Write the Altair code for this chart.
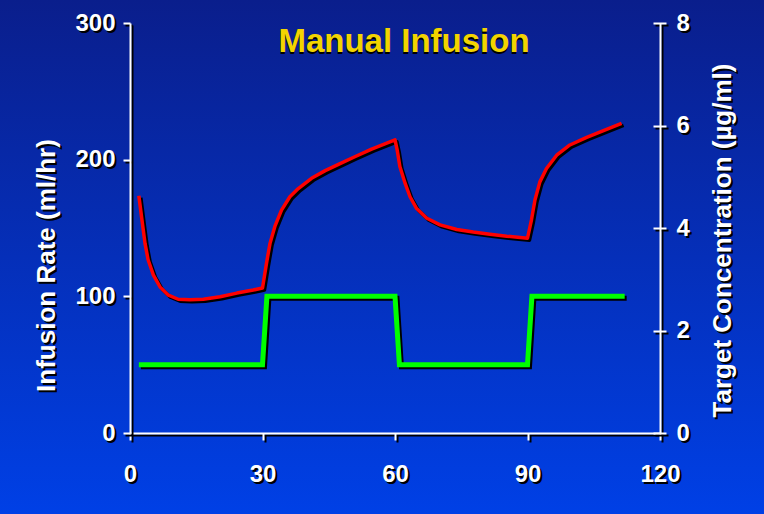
import altair as alt
import pandas as pd

# ---- data ----
x_ticks = [0, 30, 60, 90, 120]
rate_ticks = [0, 100, 200, 300]
conc_ticks = [0, 2, 4, 6, 8]

rate_time = [2, 30, 31, 60, 61, 90, 91, 112]
rate_value = [50, 50, 100, 100, 50, 50, 100, 100]

conc_time = [2, 2.7, 3.4, 4.1, 5.3, 6.8, 8.7, 10.9, 13.6, 16.6, 20.4, 24.2, 27.9, 30,
             30.9, 31.7, 32.8, 34.3, 36.2, 38.1, 41.1, 44.2, 47.2, 50.9, 54.7, 57.7, 60,
             60.5, 61.1, 62.3, 63.4, 64.9, 67.2, 70.2, 74, 77.7, 81.5, 85.3, 90,
             90.9, 91.7, 92.8, 94.3, 96.6, 99.6, 103.4, 107.2, 111.3]
conc_value = [4.63, 4.16, 3.70, 3.38, 3.08, 2.85, 2.69, 2.61, 2.60, 2.61, 2.66, 2.73, 2.79, 2.83,
              3.31, 3.70, 4.03, 4.35, 4.61, 4.77, 4.97, 5.12, 5.24, 5.39, 5.54, 5.64, 5.72,
              5.52, 5.20, 4.87, 4.61, 4.38, 4.19, 4.06, 3.97, 3.92, 3.88, 3.84, 3.80,
              4.16, 4.55, 4.90, 5.16, 5.42, 5.62, 5.77, 5.90, 6.04]

title_text = "Manual Infusion"
rate_title = "Infusion Rate (ml/hr)"
conc_title = "Target Concentration (µg/ml)"

# ---- layout / style ----
W, H = 530, 410
PL, PT, PR, PB = 130, 23, 104, 81
FONT = "Liberation Sans"
SHADOW = 2.5  # translate for shadow axes (0.5 default + 2px)

rate_df = pd.DataFrame({"time": rate_time, "rate": rate_value})
conc_df = pd.DataFrame({"time": conc_time, "conc": conc_value})
bg_df = pd.DataFrame({"k": [0]})

xscale = alt.Scale(domain=[0, 120], nice=False)
rscale = alt.Scale(domain=[0, 300], nice=False)
cscale = alt.Scale(domain=[0, 8], nice=False)

lab = dict(labelFont=FONT, labelFontSize=24, labelFontWeight="bold", labelFlush=False,
           labelOverlap=False, labelBound=False, format="d", grid=False, zindex=1)
tit = dict(titleFont=FONT, titleFontSize=26, titleFontWeight="bold")


def x_axis(c, tr):
    return alt.Axis(orient="bottom", values=x_ticks, tickSize=7, tickWidth=2, domainWidth=2,
                    tickColor=c, domainColor=c, labelColor=c, labelPadding=22,
                    title=None, translate=tr, **lab)


def left_axis(c, tr):
    return alt.Axis(orient="left", values=rate_ticks, tickSize=7, tickWidth=2, domainWidth=2,
                    tickColor=c, domainColor=c, labelColor=c, labelPadding=8,
                    title=rate_title, titleColor=c, titleX=-84, titleY=242, titleAngle=270,
                    titleAlign="center", titleBaseline="middle", translate=tr, **lab, **tit)


def right_domain_axis(c, tr):
    return alt.Axis(orient="right", values=conc_ticks, ticks=False, labels=False, domainWidth=2,
                    domainColor=c, title=conc_title, titleColor=c, titleX=62, titleY=217,
                    titleAngle=270, titleAlign="center", titleBaseline="middle",
                    translate=tr, grid=False, zindex=1, **tit)


def right_tick_axis(c, tr):
    return alt.Axis(orient="right", values=conc_ticks, domain=False, offset=-7, tickSize=13,
                    tickWidth=2, tickColor=c, labelColor=c, labelPadding=10, title=None,
                    translate=tr, **lab)


bg = alt.Chart(bg_df).mark_rect(
    fill=alt.LinearGradient(
        gradient="linear", x1=0, y1=0, x2=0, y2=1,
        stops=[alt.GradientStop(offset=0, color="#0a1e8c"),
               alt.GradientStop(offset=1, color="#0040e6")])
).encode(x=alt.value(-PL), x2=alt.value(W + PR), y=alt.value(-PT), y2=alt.value(H + PB))

green_shadow = alt.Chart(rate_df).mark_line(color="black", strokeWidth=5, xOffset=2, yOffset=2).encode(
    x=alt.X("time:Q", scale=xscale, axis=x_axis("black", SHADOW)),
    y=alt.Y("rate:Q", scale=rscale, axis=left_axis("black", SHADOW)))

green = alt.Chart(rate_df).mark_line(color="#00ff00", strokeWidth=5).encode(
    x=alt.X("time:Q", scale=xscale, axis=x_axis("white", 0.5)),
    y=alt.Y("rate:Q", scale=rscale, axis=left_axis("white", 0.5)))

red_shadow = alt.Chart(conc_df).mark_line(color="black", strokeWidth=3.5, xOffset=2, yOffset=2,
                                          strokeJoin="round").encode(
    x=alt.X("time:Q", scale=xscale, axis=None),
    y=alt.Y("conc:Q", scale=cscale, axis=right_domain_axis("black", SHADOW)))

ticks_black = alt.Chart(conc_df).mark_line(opacity=0).encode(
    x=alt.X("time:Q", scale=xscale, axis=None),
    y=alt.Y("conc:Q", scale=cscale, axis=right_tick_axis("black", SHADOW)))

red = alt.Chart(conc_df).mark_line(color="#ff0000", strokeWidth=3.5, strokeJoin="round").encode(
    x=alt.X("time:Q", scale=xscale, axis=None),
    y=alt.Y("conc:Q", scale=cscale, axis=right_domain_axis("white", 0.5)))

ticks_white = alt.Chart(conc_df).mark_line(opacity=0).encode(
    x=alt.X("time:Q", scale=xscale, axis=None),
    y=alt.Y("conc:Q", scale=cscale, axis=right_tick_axis("white", 0.5)))

chart = alt.layer(bg, green_shadow, green, red_shadow, ticks_black, red, ticks_white).resolve_scale(
    x="independent", y="independent"
).properties(
    width=W, height=H,
    padding={"left": PL, "top": PT, "right": PR, "bottom": PB},
    autosize=alt.AutoSizeParams(type="none"),
    background="#0a2aa8",
    title=alt.TitleParams(
        text=title_text, subtitle=title_text + "\u2009",
        color="black", subtitleColor="#f2d400",
        font=FONT, fontSize=33, fontWeight="bold",
        subtitleFont=FONT, subtitleFontSize=33, subtitleFontWeight="bold",
        anchor="middle", baseline="top", subtitlePadding=-35, offset=0, dx=9, dy=63),
).configure_view(stroke=None)

chart.save("out.html", embed_options={"renderer": "svg", "actions": False})
